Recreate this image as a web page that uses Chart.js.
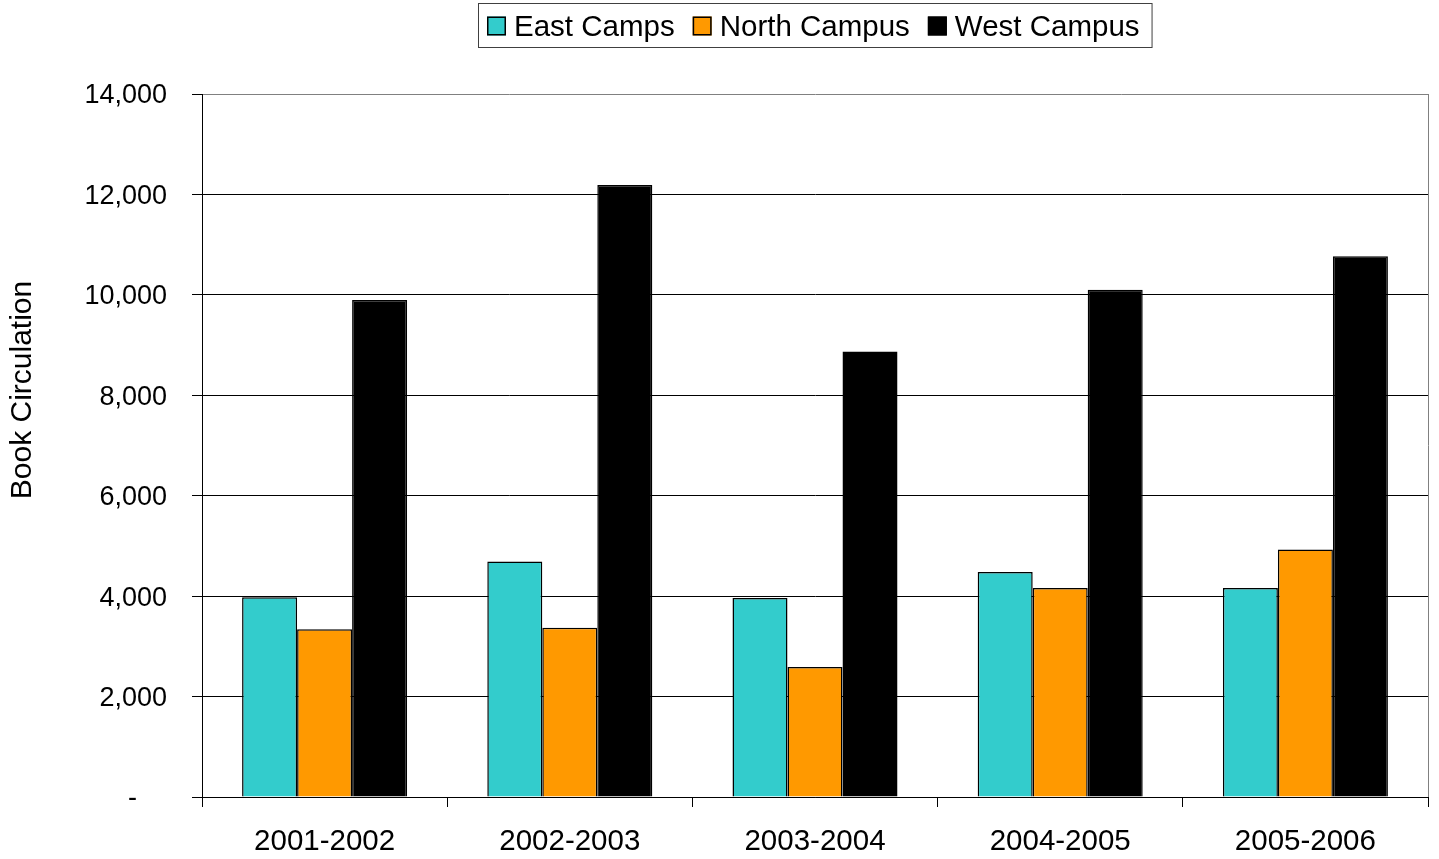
<!DOCTYPE html>
<html>
<head>
<meta charset="utf-8">
<title>Book Circulation</title>
<script src="https://cdn.jsdelivr.net/npm/chart.js@4"></script>
<style>
  html, body { margin: 0; padding: 0; background: #fff; }
  canvas { display: block; }
</style>
</head>
<body>
<canvas id="circChart" width="1439" height="859"></canvas>
<script>
// Data
const years = ['2001-2002', '2002-2003', '2003-2004', '2004-2005', '2005-2006'];
const seriesNames = ['East Camps', 'North Campus', 'West Campus'];
const eastCamps = [3980, 4690, 3965, 4480, 4160];
const northCampus = [3340, 3370, 2590, 4160, 4930];
const westCampus = [9900, 12190, 8870, 10100, 10770];
const yTicks = [0, 2000, 4000, 6000, 8000, 10000, 12000, 14000];
const yTitle = 'Book Circulation';

const colors = ['#33CCCC', '#FF9900', '#000000'];
const FONT = '"Liberation Sans", Arial, sans-serif';

// Boxed legend above the plot
const boxedLegend = {
    id: 'boxedLegend',
    afterDraw(chart) {
        const ctx = chart.ctx;
        ctx.save();
        ctx.font = '29.5px ' + FONT;
        ctx.textBaseline = 'middle';
        ctx.textAlign = 'left';

        const box = 19, textGap = 8, itemGap = 18;
        const widths = seriesNames.map(n => ctx.measureText(n).width);
        const total = widths.reduce((a, w) => a + box + textGap + w, 0) + itemGap * (seriesNames.length - 1);
        const frameLeft = 478;
        let x = frameLeft + 9;
        const cy = 26;

        ctx.strokeStyle = '#404040';
        ctx.lineWidth = 1;
        ctx.strokeRect(frameLeft + 0.5, 3.5, total + 21, 44);

        seriesNames.forEach((name, i) => {
            ctx.fillStyle = colors[i];
            ctx.fillRect(x, cy - box / 2, box, box);
            ctx.strokeStyle = '#000';
            ctx.lineWidth = 1.5;
            ctx.strokeRect(x + 0.75, cy - box / 2 + 0.75, box - 1.5, box - 1.5);
            ctx.fillStyle = '#000';
            ctx.fillText(name, x + box + textGap, cy + 1.5);
            x += box + textGap + widths[i] + itemGap;
        });
        ctx.restore();
    }
};

// Right-hand frame line and the rotated axis title
const frameAndTitle = {
    id: 'frameAndTitle',
    beforeDatasetsDraw(chart) {
        const { ctx, chartArea } = chart;
        ctx.save();
        ctx.strokeStyle = '#808080';
        ctx.lineWidth = 1;
        const rx = Math.round(chartArea.right) + 0.5;
        ctx.beginPath();
        ctx.moveTo(rx, chartArea.top);
        ctx.lineTo(rx, chartArea.bottom);
        ctx.stroke();
        ctx.restore();
    },
    afterDraw(chart) {
        const ctx = chart.ctx;
        ctx.save();
        ctx.translate(23, 390);
        ctx.rotate(-Math.PI / 2);
        ctx.font = '30px ' + FONT;
        ctx.fillStyle = '#000';
        ctx.textAlign = 'center';
        ctx.textBaseline = 'middle';
        ctx.fillText(yTitle, 0, 0);
        ctx.restore();
    }
};

new Chart(document.getElementById('circChart'), {
    type: 'bar',
    data: {
        labels: years,
        datasets: [eastCamps, northCampus, westCampus].map((vals, i) => ({
            label: seriesNames[i],
            data: vals,
            backgroundColor: colors[i],
            borderColor: '#000',
            borderWidth: 1.5,
            barPercentage: 1,
            categoryPercentage: 0.673
        }))
    },
    options: {
        responsive: false,
        animation: false,
        devicePixelRatio: 1,
        layout: { padding: { top: 94, right: 11, bottom: 0, left: 0 } },
        plugins: {
            legend: { display: false },
            tooltip: { enabled: false }
        },
        scales: {
            x: {
                offset: true,
                afterFit(scale) { scale.height = 62; },
                grid: {
                    display: true,
                    drawOnChartArea: false,
                    drawTicks: true,
                    tickLength: 10,
                    color: '#000',
                    offset: true
                },
                border: { display: true, color: '#000', width: 1 },
                ticks: {
                    color: '#000',
                    padding: 17,
                    font: { family: FONT, size: 29.5 }
                }
            },
            y: {
                min: 0,
                max: 14000,
                afterFit(scale) { scale.width = 202; },
                afterBuildTicks(scale) {
                    scale.ticks = yTicks.map(v => ({ value: v }));
                },
                grid: {
                    color: ctx => (ctx.tick && ctx.tick.value === 14000) ? '#808080' : '#000',
                    tickColor: '#000',
                    lineWidth: 1,
                    tickLength: 10
                },
                border: { display: true, color: '#000', width: 1 },
                ticks: {
                    color: '#000',
                    padding: 25,
                    labelOffset: 2,
                    font: { family: FONT, size: 27 },
                    callback: v => v === 0 ? '-    ' : v.toLocaleString('en-US')
                }
            }
        }
    },
    plugins: [frameAndTitle, boxedLegend]
});
</script>
</body>
</html>
